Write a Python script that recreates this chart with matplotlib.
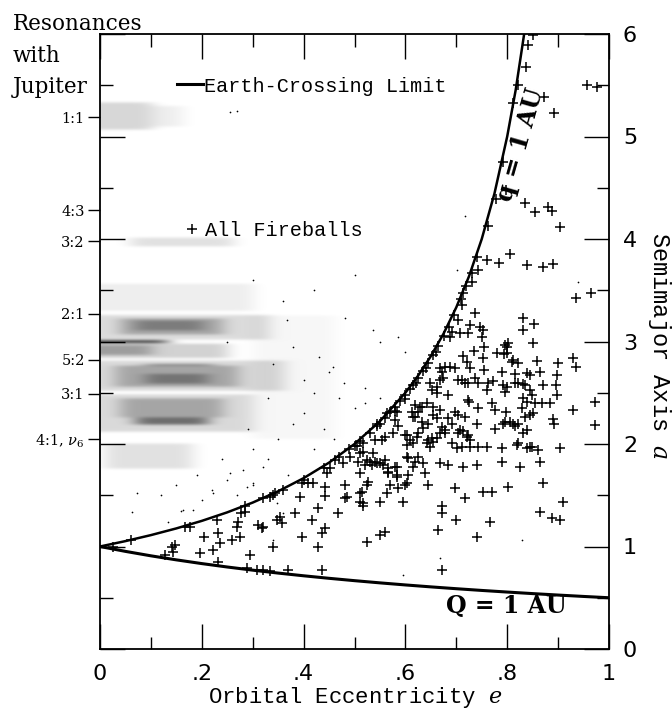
import matplotlib
matplotlib.use('Agg')
import numpy as np
import matplotlib.pyplot as plt
from matplotlib.lines import Line2D

plt.rcParams['mathtext.fontset'] = 'dejavuserif'

# ---------------- data ----------------
# limit curves (q = 1 AU and Q = 1 AU)
q_e = [0, .05, .1, .15, .2, .25, .3, .35, .4, .45, .5, .55, .6, .625, .65, .675,
       .7, .725, .75, .775, .8, .8167, .8333]
q_a = [1.0, 1.0526, 1.1111, 1.1765, 1.25, 1.3333, 1.4286, 1.5385, 1.6667, 1.8182,
       2.0, 2.2222, 2.5, 2.6667, 2.8571, 3.0769, 3.3333, 3.6364, 4.0, 4.4444, 5.0,
       5.455, 6.0]
Q_e = [0, .05, .1, .15, .2, .25, .3, .35, .4, .45, .5, .55, .6, .65, .7, .75, .8,
       .85, .9, .95, 1.0]
Q_a = [1.0, .9524, .9091, .8696, .8333, .8, .7692, .7407, .7143, .6897, .6667,
       .6452, .625, .6061, .5882, .5714, .5556, .5405, .5263, .5128, .5]

# resonances with Jupiter
res_a = [5.19, 4.28, 3.98, 3.27, 2.82, 2.49, 2.05]
res_labels = ['1:1', '4:3', '3:2', '2:1', '5:2', '3:1', r'4:1, $\nu_6$']

# fireballs (eccentricity, semimajor axis)
fire_e = [
    .851, .841, .837, .821, .872, .811, .892, .957, .976, .792, .798, .778, .835, .855, .880, .888, .904, .762,
    .760, .784, .806, .839, .870, .890, .743, .731, .713, .711,
    .935, .965, .737, .703, .831, .853, .831, .727, .747, .752,
    .707, .723, .750, .692, .688, .851, .796, .800, .754, .735,
    .780, .794, .713, .721, .752, .811, .821, .859, .900, .929,
    .935, .668, .678, .688, .697, .727, .754, .790, .815, .839,
    .845, .864, .898, .711, .717, .723, .737, .762, .772, .792,
    .800, .815, .821, .831, .845, .849, .870, .896, .648, .652,
    .662, .684, .725, .770, .776, .798, .831, .839, .829, .855,
    .868, .884, .898, .929, .972, .972, .890, .892, .851, .835,
    .619, .633, .642, .654, .668, .697, .703, .717, .741, .776,
    .792, .796, .815, .831, .839, .619, .633, .644, .672, .678,
    .713, .721, .599, .609, .615, .642, .648, .662, .692, .701,
    .711, .727, .743, .760, .790, .821, .839, .845, .861, .904,
    .605, .619, .625, .713, .741, .790, .825, .864,
    .672, .703, .743, .796, .760, .662, .668, .674, .723, .743,
    .629, .625, .654, .662, .684, .692, .635, .613, .615, .806,
    .707, .703, .723, .727, .678, .668, .623, .625, .644, .652, .654,
    .809, .802, .800, .835, .811, .821, .845, .819, .849,
    .477, .507, .521, .534, .544, .556, .583, .615, .635, .668,
    .684, .511, .566, .583, .605, .639, .481, .515, .527, .525,
    .570, .585, .599, .644, .697, .717, .752, .770, .802, .870,
    .481, .511, .517, .550, .564, .595, .910, .468, .672, .672,
    .699, .766, .864, .888, .904, .664, .741, .550, .560, .525, .672,
    .393, .383, .428, .417, .442, .442, .354, .358, .320, .397,
    .436, .442, .340, .428, .485, .511, .517, .491, .517, .525,
    .530, .540, .550, .560, .536, .540, .554, .560, .566, .566,
    .580, .583, .505, .511, .517, .603, .603, .580, .585, .576,
    .583, .564, .603, .603, .544, .452, .446, .462, .409, .418,
    .397, .340, .344, .320,
    .026, .128, .141, .143, .147, .167, .177, .196, .204, .222,
    .232, .236, .232, .230, .259, .269, .275, .271, .277, .285,
    .285, .295, .289, .310, .318, .334, .348, .308, .320, .334,
    .369, .436,
    .36, .40, .44, .47, .49, .51, .53, .545, .56, .57,
    .58, .59, .60, .61, .615, .625, .635, .645, .655, .665,
    .675, .685, .695, .71, .72, .73, .74, .06, .58, .60,
    .62, .64, .66, .50, .55,
]
fire_a = [
    5.99, 5.89, 5.68, 5.50, 5.39, 5.33, 5.23, 5.50, 5.48, 4.75, 4.48, 4.39, 4.35, 4.26, 4.31, 4.27, 4.12, 4.13,
    3.80, 3.77, 3.85, 3.75, 3.73, 3.76, 3.70, 3.58, 3.47, 3.36,
    3.42, 3.47, 3.28, 3.21, 3.23, 3.17, 3.11, 3.16, 3.14, 3.11,
    3.08, 3.08, 3.04, 3.09, 3.04, 2.99, 2.97, 2.95, 2.95, 2.91,
    2.89, 2.88, 2.86, 2.80, 2.84, 2.82, 2.79, 2.81, 2.79, 2.84,
    2.75, 2.74, 2.75, 2.75, 2.74, 2.74, 2.72, 2.70, 2.68, 2.69,
    2.67, 2.70, 2.67, 2.62, 2.60, 2.60, 2.64, 2.60, 2.61, 2.58,
    2.56, 2.60, 2.60, 2.59, 2.53, 2.48, 2.58, 2.58, 2.60, 2.53,
    2.50, 2.48, 2.41, 2.40, 2.33, 2.31, 2.45, 2.41, 2.35, 2.40,
    2.40, 2.40, 2.48, 2.33, 2.41, 2.19, 2.24, 2.20, 2.30, 2.26,
    2.38, 2.36, 2.40, 2.36, 2.33, 2.31, 2.28, 2.26, 2.20, 2.15,
    2.20, 2.21, 2.18, 2.11, 2.14, 2.26, 2.21, 2.20, 2.17, 2.11,
    2.13, 2.07, 2.09, 2.04, 2.01, 2.01, 1.97, 2.06, 2.01, 1.96,
    1.97, 1.97, 1.97, 1.97, 1.96, 2.01, 1.96, 1.97, 1.94, 1.96,
    1.86, 1.82, 1.87, 1.78, 1.80, 1.82, 1.78, 1.82,
    2.70, 2.62, 2.60, 2.51, 2.53, 2.56, 2.62, 2.64, 2.43, 2.35,
    2.36, 2.31, 2.28, 2.25, 2.25, 2.20, 2.16, 2.31, 2.26, 2.21,
    2.14, 2.11, 2.09, 2.04, 2.14, 2.11, 2.07, 2.11, 2.04, 2.06, 2.02,
    2.80, 2.99, 2.89, 2.58, 2.20, 2.20, 2.28, 1.99, 1.97,
    1.81, 1.82, 1.80, 1.80, 1.81, 1.80, 1.78, 1.78, 1.81, 1.81,
    1.80, 1.72, 1.72, 1.70, 1.70, 1.72, 1.60, 1.53, 1.63, 1.60,
    1.60, 1.57, 1.60, 1.60, 1.57, 1.47, 1.53, 1.53, 1.58, 1.62,
    1.47, 1.43, 1.42, 1.43, 1.52, 1.43, 1.43, 1.33, 1.40, 1.33,
    1.26, 1.24, 1.34, 1.28, 1.26, 1.16, 1.09, 1.11, 1.14, 1.04, 0.77,
    1.48, 1.33, 1.38, 1.26, 1.58, 1.49, 1.29, 1.23, 1.19, 1.09,
    1.13, 1.18, 1.00, 1.00, 1.48, 1.52, 1.40, 1.87, 1.92, 1.84,
    1.82, 1.82, 1.81, 1.84, 1.91, 2.04, 2.04, 2.07, 1.77, 1.73,
    1.78, 1.68, 1.98, 1.91, 2.01, 2.09, 1.99, 2.23, 2.18, 2.11,
    2.31, 2.30, 1.87, 1.62, 2.20, 1.77, 1.72, 1.84, 1.62, 1.62,
    1.62, 1.50, 1.52, 1.47,
    1.00, 0.92, 1.00, 0.95, 1.01, 1.19, 1.19, 0.94, 1.09, 0.97,
    1.13, 1.03, 0.85, 1.26, 1.06, 1.19, 1.09, 1.24, 1.33, 1.34,
    1.40, 0.92, 0.79, 1.21, 1.18, 1.48, 1.26, 0.77, 0.77, 0.76,
    0.77, 0.77,
    1.55, 1.65, 1.77, 1.87, 1.95, 2.03, 2.11, 2.18, 2.25, 2.31,
    2.36, 2.42, 2.48, 2.54, 2.58, 2.64, 2.71, 2.79, 2.87, 2.96,
    3.05, 3.14, 3.26, 3.41, 3.54, 3.67, 3.82, 1.06, 2.32, 2.44,
    2.60, 2.74, 2.90, 1.98, 2.20,
]

# asteroid belt density bands (semimajor-axis range, eccentricity range, shade)
belt_a_lo = [5.07, 5.10, 3.93, 3.30, 3.02, 3.07, 3.11, 2.985, 2.84, 2.87, 2.52, 2.56, 2.59, 2.765, 2.12, 2.26, 2.19, 1.76, 2.05]
belt_a_hi = [5.33, 5.30, 4.01, 3.56, 3.26, 3.22, 3.20, 3.01, 2.975, 2.96, 2.81, 2.76, 2.68, 2.78, 2.48, 2.44, 2.26, 2.00, 3.25]
belt_e_lo = [0.00, 0.10, 0.06, 0.00, 0.00, 0.04, 0.07, 0.00, 0.00, 0.00, 0.00, 0.03, 0.09, 0.09, 0.00, 0.04, 0.07, 0.01, 0.30]
belt_e_hi = [0.10, 0.16, 0.26, 0.30, 0.33, 0.24, 0.20, 0.13, 0.25, 0.10, 0.36, 0.27, 0.21, 0.22, 0.30, 0.24, 0.21, 0.18, 0.46]
belt_shade = [0.16, 0.07, 0.12, 0.07, 0.14, 0.25, 0.25, 0.75, 0.18, 0.25, 0.15, 0.24, 0.30, 0.45, 0.15, 0.24, 0.50, 0.12, 0.035]

# scattered individual asteroids
dot_e = [0.255, 0.269, 0.367, 0.458, 0.717, 0.501, 0.701, 0.481, 0.939, 0.585, 0.536,
         0.45, 0.48, 0.52, 0.47, 0.50, 0.55, 0.42, 0.40, 0.38, 0.44, 0.35, 0.30, 0.33,
         0.28, 0.25, 0.22, 0.20, 0.27, 0.30, 0.37, 0.42, 0.46, 0.52, 0.40, 0.43, 0.38,
         0.34, 0.36, 0.30, 0.42, 0.25, 0.33, 0.29, 0.24, 0.19, 0.15, 0.12, 0.16,
         0.063, 0.072, 0.134, 0.163, 0.183, 0.222, 0.255, 0.289, 0.301, 0.320, 0.348,
         0.360, 0.829, 0.668, 0.595, 0.340, 0.60, 0.55]
dot_a = [5.24, 5.25, 3.21, 2.75, 4.22, 3.65, 3.70, 3.23, 3.58, 3.04, 3.11,
         2.70, 2.60, 2.55, 2.45, 2.35, 2.45, 2.50, 2.30, 2.20, 2.15, 2.05, 1.95, 1.85,
         1.75, 1.65, 1.55, 1.45, 1.50, 1.60, 1.70, 1.95, 2.05, 2.40, 2.62, 2.85, 2.95,
         2.78, 3.40, 3.60, 3.50, 3.00, 2.45, 2.15, 1.85, 1.70, 1.60, 1.50, 1.35,
         1.34, 1.52, 1.24, 1.36, 1.36, 1.52, 1.72, 1.58, 1.62, 1.78, 1.42,
         1.33, 1.06, 0.89, 0.72, 1.06, 2.90, 3.00]

# ---------------- figure ----------------
fig = plt.figure(figsize=(6.72, 7.09), dpi=100)
ax = fig.add_axes([100 / 672, 1 - 649 / 709, 509 / 672, 615 / 709])

# belt density image built from the bands, with softened edges
E = np.linspace(0.0, 0.56, 281)
A = np.linspace(1.6, 5.5, 781)
EE, AA = np.meshgrid(E, A)
clear = np.ones_like(EE)
for alo, ahi, elo, ehi, s in zip(belt_a_lo, belt_a_hi, belt_e_lo, belt_e_hi, belt_shade):
    inside = (EE >= elo) & (EE <= ehi) & (AA >= alo) & (AA <= ahi)
    clear = clear * (1 - s * inside)
dens = 1 - clear


def soften(arr, sigma, axis):
    r = int(np.ceil(3 * sigma))
    k = np.arange(-r, r + 1)
    w = np.exp(-0.5 * (k / sigma) ** 2)
    w = w / w.sum()

    def conv(v):
        vp = np.pad(v, r, mode='edge')
        return np.convolve(vp, w, mode='same')[r:-r]
    return np.apply_along_axis(conv, axis, arr)


dens = soften(dens, 8.0, 1)   # along eccentricity
dens = soften(dens, 2.5, 0)   # along semimajor axis
rgba = np.zeros(dens.shape + (4,))
rgba[..., 3] = np.clip(dens, 0, 1)
ax.imshow(rgba, extent=(0.0, 0.56, 1.6, 5.5), origin='lower', aspect='auto',
          interpolation='bilinear', zorder=1)
ax.set_xlim(0, 1)
ax.set_ylim(0, 6)
ax.scatter(dot_e, dot_a, s=1.5, color='k', linewidths=0, zorder=2)

# curves
ax.plot(q_e, q_a, color='k', lw=1.8, zorder=4, solid_capstyle='butt')
ax.plot(Q_e, Q_a, color='k', lw=2.2, zorder=4)

# fireballs
ax.plot(fire_e, fire_a, '+', color='k', ms=7, mew=1.1, zorder=5)

# ticks
ax.set_xticks([0, .2, .4, .6, .8, 1], ['0', '.2', '.4', '.6', '.8', '1'])
ax.set_xticks([.1, .3, .5, .7, .9], minor=True)
ax.set_yticks([0, 1, 2, 3, 4, 5, 6])
ax.set_yticks([.5, 1.5, 2.5, 3.5, 4.5, 5.5], minor=True)
ax.tick_params(which='both', direction='in', top=True, right=True, left=True,
               bottom=True, labelleft=False, labelright=True, width=1.0)
ax.tick_params(which='major', length=18)
ax.tick_params(which='minor', length=9)
ax.tick_params(axis='x', which='major', pad=11, labelsize=16)
ax.tick_params(axis='y', which='major', pad=10, labelsize=16)
for lab in ax.get_xticklabels() + ax.get_yticklabels():
    lab.set_fontfamily('DejaVu Sans')
for sp in ax.spines.values():
    sp.set_linewidth(1.3)

# resonance labels
sec = ax.secondary_yaxis('left')
sec.set_yticks(res_a, res_labels, fontfamily='DejaVu Serif', fontsize=10.5)
sec.tick_params(direction='out', length=9, width=1.0, pad=2)
sec.spines['left'].set_visible(False)

# axis labels
ax.set_xlabel('Orbital Eccentricity $e$', fontfamily='Liberation Mono', fontsize=16)
ax.xaxis.set_label_coords(0.501, -0.058)
ax.xaxis.label.set_va('top')
ax.yaxis.set_label_position('right')
ax.set_ylabel('Semimajor Axis $a$', fontfamily='Liberation Mono', fontsize=17,
              rotation=270, va='center')
ax.yaxis.set_label_coords(1.100, 0.494)

# curve labels
ax.text(0.827, 4.92, 'q = 1 AU', rotation=74, ha='center', va='center',
        fontfamily='DejaVu Serif', fontweight='bold', fontsize=17, zorder=6,
        rotation_mode='anchor')
ax.text(0.798, 0.42, 'Q = 1 AU', ha='center', va='center',
        fontfamily='DejaVu Serif', fontweight='bold', fontsize=17, zorder=6)

# legends
leg1 = ax.legend(handles=[Line2D([], [], color='k', lw=2.2)],
                 labels=['Earth-Crossing Limit'], loc='center left',
                 bbox_to_anchor=(0.1513, 0.9154), frameon=False, borderpad=0,
                 borderaxespad=0, handlelength=1.3, handletextpad=0.05,
                 prop={'family': 'Liberation Mono', 'size': 14.5})
ax.add_artist(leg1)
ax.legend(handles=[Line2D([], [], color='k', marker='+', ls='none', ms=7, mew=1.1)],
          labels=['All Fireballs'], loc='center left',
          bbox_to_anchor=(0.161, 0.680), frameon=False, borderpad=0,
          borderaxespad=0, handlelength=1.0, handletextpad=0.15,
          prop={'family': 'Liberation Mono', 'size': 14.5})

# title block
for txt, yb in [('Resonances', 30), ('with', 62), ('Jupiter', 93)]:
    fig.text(13 / 672, 1 - yb / 709, txt, fontfamily='DejaVu Serif', fontsize=15.5,
             ha='left', va='baseline')

fig.savefig('out.png', dpi=100)
